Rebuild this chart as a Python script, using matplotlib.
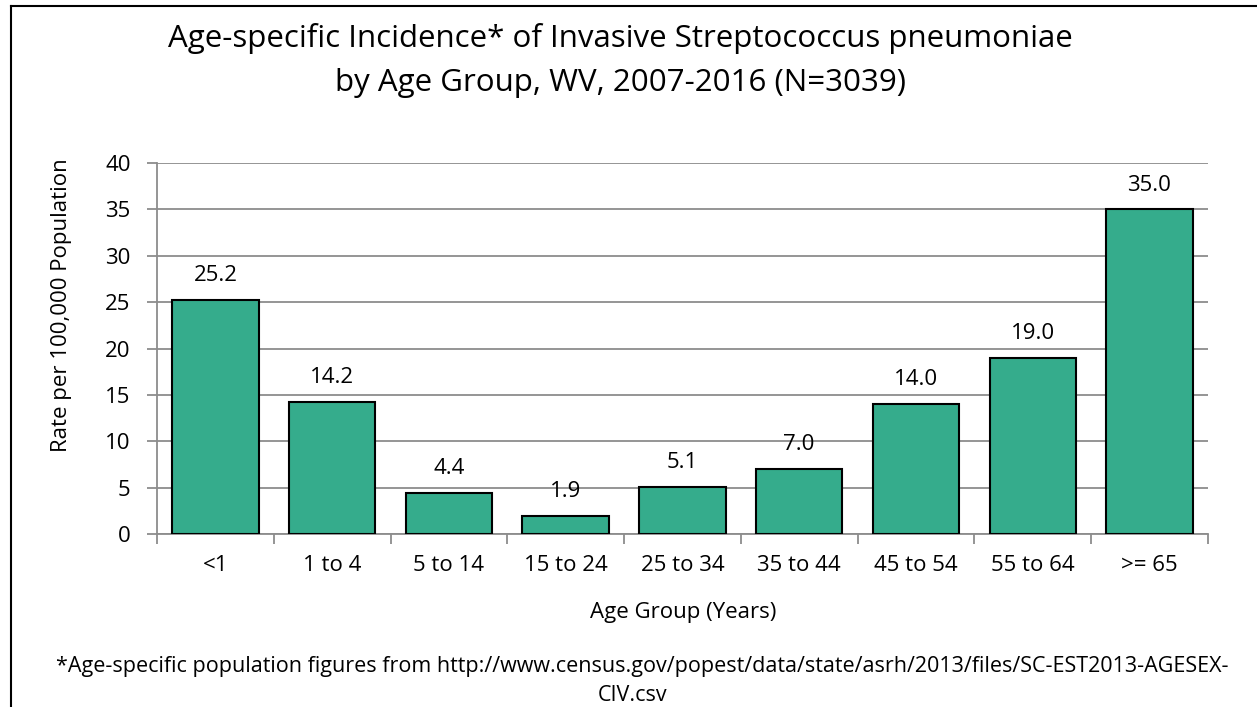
import matplotlib
matplotlib.use("Agg")
from matplotlib import pyplot as plt
from matplotlib.lines import Line2D

ageGroups = ['<1', '1 to 4', '5 to 14', '15 to 24', '25 to 34', '35 to 44', '45 to 54', '55 to 64', '>= 65']
rates = [25.2, 14.2, 4.4, 1.9, 5.1, 7.0, 14.0, 19.0, 35.0]
yTicks = [0, 5, 10, 15, 20, 25, 30, 35, 40]

BAR_COLOR = '#35AC8C'
GRID_COLOR = '#8C8C8C'
LABEL_SIZE = 16

plt.rcParams['font.family'] = ['Open Sans', 'DejaVu Sans']

fig = plt.figure(figsize=(12.57, 7.07), dpi=100)
ax = fig.add_axes([0.1249, 0.2447, 0.836, 0.5247])

positions = list(range(len(ageGroups)))
ax.bar(positions, rates, width=0.74, color=BAR_COLOR, edgecolor='black', linewidth=1.5, zorder=3)

for x, v in zip(positions, rates):
    ax.annotate('%.1f' % v, (x, v), xytext=(0, 10), textcoords='offset points',
                ha='center', va='bottom', fontsize=LABEL_SIZE)

ax.set_xlim(-0.5, len(ageGroups) - 0.5)
ax.set_ylim(0, 40)
ax.set_yticks(yTicks)
ax.set_yticklabels([str(t) for t in yTicks], fontsize=LABEL_SIZE)
ax.yaxis.grid(True, color=GRID_COLOR, linewidth=1.3, zorder=0)

ax.set_xticks(positions)
ax.set_xticklabels(ageGroups, fontsize=LABEL_SIZE)
ax.tick_params(axis='x', length=0, pad=15)
ax.set_xticks([p + 0.5 for p in [-1] + positions], minor=True)
ax.tick_params(axis='x', which='minor', length=7, width=1.3, color=GRID_COLOR, direction='out')
ax.tick_params(axis='y', length=7, width=1.3, color=GRID_COLOR, direction='out', pad=12)

for side in ['top', 'right']:
    ax.spines[side].set_visible(False)
for side in ['left', 'bottom']:
    ax.spines[side].set_color(GRID_COLOR)
    ax.spines[side].set_linewidth(1.3)

fig.text(0.4935, 0.946, 'Age-specific Incidence* of Invasive Streptococcus pneumoniae',
         ha='center', va='center', fontsize=22.5)
fig.text(0.4935, 0.883, 'by Age Group, WV, 2007-2016 (N=3039)',
         ha='center', va='center', fontsize=22.5)
fig.text(0.049, 0.569, 'Rate per 100,000 Population', rotation=90,
         ha='center', va='center', fontsize=LABEL_SIZE)
fig.text(0.5434, 0.134, 'Age Group (Years)', ha='center', va='center', fontsize=LABEL_SIZE)
fig.text(0.511, 0.057, '*Age-specific population figures from http://www.census.gov/popest/data/state/asrh/2013/files/SC-EST2013-AGESEX-',
         ha='center', va='center', fontsize=15.5)
fig.text(0.503, 0.016, 'CIV.csv', ha='center', va='center', fontsize=15.5)

# outer chart frame (only left and top edges visible in the image)
fig.add_artist(Line2D([0.0088, 0.0088], [0.0, 0.9915], color='black', linewidth=1.5, transform=fig.transFigure))
fig.add_artist(Line2D([0.0088, 1.0], [0.9915, 0.9915], color='black', linewidth=1.5, transform=fig.transFigure))

fig.savefig('out.png', dpi=100, facecolor='white')
